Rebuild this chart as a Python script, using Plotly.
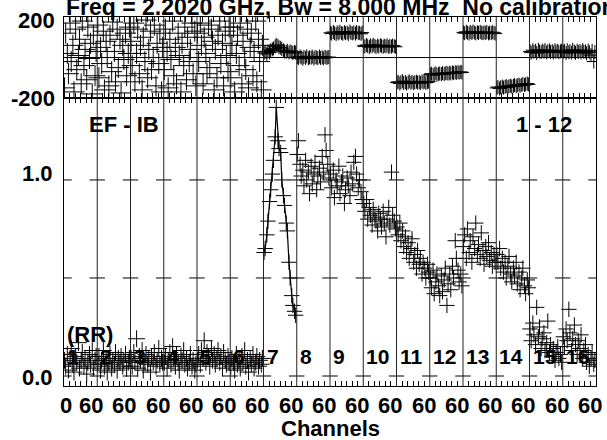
import plotly.graph_objects as go

# ---------------- data ----------------
N_IF = 16
IF_WIDTH = 60          # channel units spanned by each IF on the axis
CHANNELS = [1, 3, 6, 8, 11, 13, 16, 18, 21, 23, 26, 28, 31, 33, 36, 38, 41, 43, 46, 48, 51, 53, 56, 58]
MINOR_TICK_CHANNELS = [10, 20, 30, 40, 50]
X_TICK_LABELS = ["0"] + ["60"] * 16
X_LABEL_CHANNEL = 50   # the "60" labels sit over this channel of each IF
IF_LABELS = [str(i) for i in range(1, 17)]
AMP_TICKS = [0.0, 0.5, 1.0]
AMP_LABEL_VALUES = [0.0, 1.0]
AMP_LABELS = ["0.0", "1.0"]
PHS_LABEL_VALUES = [-200, 200]
PHS_LABELS = ["-200", "200"]

AMP_IF01 = [0.08, 0.05, 0.11, 0.03, 0.09, 0.14, 0.06, 0.02, 0.10, 0.07, 0.17, 0.04, 0.08, 0.12, 0.05, 0.09, 0.01, 0.07, 0.11, 0.06, 0.13, 0.04, 0.08, 0.10]
AMP_IF02 = [0.06, 0.10, 0.03, 0.08, 0.13, 0.05, 0.09, 0.02, 0.07, 0.11, 0.04, 0.08, 0.06, 0.12, 0.03, 0.09, 0.07, 0.10, 0.05, 0.08, 0.11, 0.04, 0.07, 0.09]
AMP_IF03 = [0.09, 0.05, 0.12, 0.07, 0.19, 0.04, 0.10, 0.08, 0.13, 0.03, 0.07, 0.11, 0.06, 0.09, 0.02, 0.10, 0.07, 0.12, 0.05, 0.08, 0.14, 0.06, 0.09, 0.07]
AMP_IF04 = [0.07, 0.10, 0.04, 0.08, 0.12, 0.06, 0.15, 0.09, 0.05, 0.11, 0.07, 0.03, 0.10, 0.08, 0.13, 0.06, 0.09, 0.04, 0.07, 0.11, 0.05, 0.08, 0.03, 0.06]
AMP_IF05 = [0.08, 0.11, 0.06, 0.13, 0.09, 0.18, 0.07, 0.12, 0.10, 0.05, 0.14, 0.08, 0.11, 0.06, 0.09, 0.13, 0.07, 0.10, 0.04, 0.12, 0.08, 0.06, 0.10, 0.07]
AMP_IF06 = [0.05, 0.09, 0.07, 0.03, 0.11, 0.06, 0.08, 0.04, 0.10, 0.07, 0.13, 0.05, 0.08, 0.02, 0.09, 0.06, 0.11, 0.04, 0.07, 0.10, 0.05, 0.08, 0.06, 0.09]
AMP_IF07 = [0.63, 0.65, 0.72, 0.79, 0.89, 0.95, 1.03, 1.10, 1.22, 1.37, 1.20, 1.16, 1.14, 1.00, 0.92, 0.87, 0.78, 0.74, 0.58, 0.50, 0.41, 0.36, 0.33, 0.31]
AMP_IF08 = [1.13, 1.20, 1.08, 1.02, 1.05, 0.97, 1.10, 1.00, 1.04, 0.93, 1.07, 0.98, 1.03, 1.09, 0.95, 1.02, 1.06, 0.99, 1.12, 1.04, 1.23, 1.15, 1.08, 1.01]
AMP_IF09 = [1.03, 0.96, 1.05, 0.91, 1.00, 0.97, 1.07, 0.93, 0.99, 1.02, 0.88, 0.95, 1.01, 0.97, 0.92, 1.04, 0.98, 1.09, 1.12, 1.03, 0.96, 1.00, 0.94, 0.90]
AMP_IF10 = [0.88, 0.84, 0.90, 0.80, 0.86, 0.82, 0.77, 0.85, 0.81, 0.79, 0.74, 0.83, 0.80, 0.76, 0.84, 0.78, 0.71, 0.80, 0.86, 0.77, 1.04, 0.82, 0.79, 0.75]
AMP_IF11 = [0.76, 0.72, 0.78, 0.69, 0.74, 0.66, 0.71, 0.63, 0.68, 0.60, 0.65, 0.70, 0.58, 0.62, 0.55, 0.64, 0.57, 0.60, 0.52, 0.58, 0.55, 0.50, 0.57, 0.53]
AMP_IF12 = [0.50, 0.45, 0.54, 0.42, 0.48, 0.52, 0.46, 0.41, 0.51, 0.43, 0.49, 0.55, 0.36, 0.47, 0.52, 0.44, 0.56, 0.50, 0.69, 0.60, 0.54, 0.48, 0.52, 0.46]
AMP_IF13 = [0.66, 0.72, 0.60, 0.75, 0.63, 0.69, 0.58, 0.71, 0.65, 0.78, 0.62, 0.67, 0.60, 0.73, 0.64, 0.57, 0.66, 0.61, 0.68, 0.59, 0.63, 0.56, 0.62, 0.58]
AMP_IF14 = [0.62, 0.58, 0.65, 0.55, 0.60, 0.53, 0.58, 0.50, 0.56, 0.61, 0.52, 0.48, 0.55, 0.51, 0.58, 0.47, 0.53, 0.44, 0.50, 0.55, 0.46, 0.42, 0.49, 0.45]
AMP_IF15 = [0.24, 0.18, 0.27, 0.21, 0.16, 0.35, 0.20, 0.25, 0.14, 0.19, 0.22, 0.13, 0.17, 0.28, 0.12, 0.16, 0.10, 0.14, 0.08, 0.12, 0.15, 0.09, 0.11, 0.07]
AMP_IF16 = [0.20, 0.15, 0.24, 0.18, 0.34, 0.22, 0.13, 0.19, 0.26, 0.16, 0.11, 0.18, 0.14, 0.21, 0.09, 0.13, 0.16, 0.07, 0.11, 0.05, 0.09, 0.12, 0.06, 0.08]

PHS_IF01 = [-150, 120, 20, -80, 170, -20, 60, -170, 140, -60, 10, 90, -130, 180, -40, 40, -110, 150, -5, 70, -180, 110, -90, 30]
PHS_IF02 = [160, -100, 50, -30, 130, -160, 80, 0, -140, 110, -70, 175, 30, -120, 140, -50, 90, -175, 60, -10, 120, -90, 20, 150]
PHS_IF03 = [80, -40, 170, -120, 20, 140, -80, 60, -160, 100, -20, 185, -100, 40, 130, -60, 0, 160, -140, 70, -30, 120, -170, 50]
PHS_IF04 = [-60, 140, 30, -150, 90, -10, 180, -90, 50, -130, 120, 10, -170, 70, -40, 150, -110, 100, -20, 40, 170, -80, 130, -140]
PHS_IF05 = [120, -20, 170, 60, -130, 100, 20, -80, 160, -50, 140, 80, -160, 40, -100, 110, 180, -30, 70, -140, 130, 10, -70, 150]
PHS_IF06 = [-100, 60, 150, -170, 20, 110, -40, 170, -130, 80, 0, -60, 140, -150, 50, 120, -90, 30, 180, -120, 90, -20, -160, 60]
PHS_IF07 = [22, 28, 18, 30, 25, 35, 40, 45, 55, 62, 58, 50, 48, 42, 35, 30, 28, 33, 25, 30, 27, 22, 28, 24]
PHS_IF08 = [2, -3, 5, 0, -6, 3, -2, 6, -4, 1, -1, 4, -5, 2, 0, -3, 5, -2, 1, -4, 3, -1, 0, 2]
PHS_IF09 = [122, 118, 126, 120, 115, 124, 119, 127, 121, 117, 125, 120, 123, 116, 128, 121, 119, 124, 118, 126, 120, 122, 117, 123]
PHS_IF10 = [58, 54, 62, 56, 51, 60, 55, 63, 57, 52, 59, 54, 61, 56, 53, 58, 55, 60, 52, 57, 54, 59, 56, 53]
PHS_IF11 = [-124, -120, -128, -122, -117, -126, -121, -129, -123, -118, -125, -120, -127, -122, -119, -124, -121, -126, -118, -123, -120, -125, -122, -119]
PHS_IF12 = [-84, -80, -87, -82, -78, -85, -81, -79, -83, -77, -82, -78, -76, -80, -75, -79, -74, -77, -73, -76, -72, -75, -71, -74]
PHS_IF13 = [124, 120, 127, 122, 118, 126, 121, 128, 123, 119, 125, 121, 127, 122, 120, 124, 121, 126, 119, 123, 120, 125, 122, 118]
PHS_IF14 = [-150, -146, -153, -147, -143, -149, -145, -141, -147, -142, -139, -144, -140, -136, -142, -137, -134, -139, -135, -131, -136, -132, -129, -133]
PHS_IF15 = [30, 24, 36, 28, 33, 22, 38, 30, 26, 34, 29, 37, 25, 31, 35, 27, 32, 24, 36, 29, 33, 26, 30, 34]
PHS_IF16 = [28, 33, 22, 36, 26, 31, 24, 38, 29, 23, 34, 27, 32, 25, 37, 28, 30, 21, 35, 26, 12, 33, -20, 27]

AMPS = [AMP_IF01, AMP_IF02, AMP_IF03, AMP_IF04, AMP_IF05, AMP_IF06, AMP_IF07, AMP_IF08,
        AMP_IF09, AMP_IF10, AMP_IF11, AMP_IF12, AMP_IF13, AMP_IF14, AMP_IF15, AMP_IF16]
PHASES = [PHS_IF01, PHS_IF02, PHS_IF03, PHS_IF04, PHS_IF05, PHS_IF06, PHS_IF07, PHS_IF08,
          PHS_IF09, PHS_IF10, PHS_IF11, PHS_IF12, PHS_IF13, PHS_IF14, PHS_IF15, PHS_IF16]
NOISY_IFS = [1, 2, 3, 4, 5, 6]
LINE_IFS = [7]

TITLE = "Freq = 2.2020 GHz, Bw = 8.000 MHz  No calibration applied"

# ---------------- figure ----------------
W, H = 607, 440
ML, MR, MT, MB = 64, 11, 17, 54
PH = H - MT - MB
BOUNDARY = (H - MB - 98) / PH   # paper y of panel boundary

FONT = "Liberation Sans, Arial, Helvetica, sans-serif"
INK = "#000000"

fig = go.Figure()

for i in range(N_IF):
    ifn = i + 1
    xs = [i * IF_WIDTH + c for c in CHANNELS]
    big = ifn in NOISY_IFS
    mode = "lines+markers" if ifn in LINE_IFS else "markers"
    fig.add_trace(go.Scatter(
        x=xs, y=AMPS[i], mode=mode, xaxis="x", yaxis="y",
        line=dict(color=INK, width=1.2),
        marker=dict(symbol="cross-thin", size=12 if big else 11,
                    line=dict(color=INK, width=1)),
        showlegend=False, hoverinfo="skip"))
    fig.add_trace(go.Scatter(
        x=xs, y=PHASES[i], mode="markers", xaxis="x2", yaxis="y2",
        marker=dict(symbol="cross-thin", size=15 if big else 10,
                    line=dict(color=INK, width=1)),
        showlegend=False, hoverinfo="skip"))

# cross tick marks on amplitude panel at each IF boundary
bx, by = [], []
for k in range(N_IF + 1):
    for t in AMP_TICKS:
        bx.append(k * IF_WIDTH)
        by.append(t)
fig.add_trace(go.Scatter(x=bx, y=by, mode="markers", xaxis="x", yaxis="y",
                         marker=dict(symbol="line-ew", size=11, line=dict(color=INK, width=1)),
                         cliponaxis=True, showlegend=False, hoverinfo="skip"))

minor_ticks = [k * IF_WIDTH + c for k in range(N_IF) for c in MINOR_TICK_CHANNELS]
XR = [0, N_IF * IF_WIDTH]

axis_common = dict(showgrid=False, zeroline=False, showline=True, linecolor=INK,
                   linewidth=1, mirror=True, automargin=False)

fig.update_layout(
    width=W, height=H, margin=dict(l=ML, r=MR, t=MT, b=MB),
    plot_bgcolor="white", paper_bgcolor="white",
    font=dict(family=FONT, size=22, color=INK, weight="bold"),
    xaxis=dict(domain=[0, 1], range=XR, anchor="y", tickvals=minor_ticks, ticks="inside",
               ticklen=5, tickcolor=INK, showticklabels=False, **{**axis_common, "mirror": "ticks"}),
    yaxis=dict(domain=[0, BOUNDARY], range=[-0.051, 1.418], anchor="x",
               showticklabels=False, ticks="", **axis_common),
    xaxis2=dict(domain=[0, 1], range=XR, anchor="y2", matches="x", tickvals=minor_ticks,
                ticks="inside", ticklen=5, tickcolor=INK, showticklabels=False,
                **{**axis_common, "mirror": "ticks"}),
    yaxis2=dict(domain=[BOUNDARY, 1], range=[-200, 200], anchor="x2",
                showticklabels=False, ticks="",
                **{**axis_common, "zeroline": True, "zerolinecolor": INK, "zerolinewidth": 1}),
)

# IF dividers through both panels
for k in range(1, N_IF):
    fig.add_shape(type="line", xref="x", yref="paper", x0=k * IF_WIDTH, x1=k * IF_WIDTH,
                  y0=0, y1=1, line=dict(color="#222222", width=1), layer="above")

def ann(text, x, y, xref="paper", yref="paper", xanchor="left", yanchor="middle", size=22,
        xshift=0, yshift=0):
    fig.add_annotation(text=text, x=x, y=y, xref=xref, yref=yref, xanchor=xanchor,
                       yanchor=yanchor, showarrow=False, xshift=xshift, yshift=yshift,
                       borderpad=0,
                       font=dict(family=FONT, size=size, color=INK, weight="bold"))

def px_x(p):
    return (p - ML) / (W - ML - MR)

def px_y(p):
    return (H - MB - p) / PH

# y-axis labels (placed next to the axis like the original plot)
ann(AMP_LABELS[1], px_x(54), AMP_LABEL_VALUES[1], yref="y", xanchor="right", yshift=6)
ann(AMP_LABELS[0], px_x(54), AMP_LABEL_VALUES[0], yref="y", xanchor="right", yshift=-1)
ann(PHS_LABELS[1], px_x(56), PHS_LABEL_VALUES[1], yref="y2", xanchor="right", yshift=-3)
ann(PHS_LABELS[0], px_x(56), PHS_LABEL_VALUES[0], yref="y2", xanchor="right")

# title (clipped at the top edge as in the original)
ann(TITLE, px_x(65), px_y(21), yanchor="bottom", size=23)
ann("EF - IB", px_x(88), px_y(124))
ann("1 - 12", px_x(515), px_y(124))
ann("(RR)", px_x(66), px_y(334))
for k, lab in enumerate(IF_LABELS):
    ann(lab, k * IF_WIDTH, px_y(356), xref="x", xshift=2, size=21)
# channel tick labels
for k, lab in enumerate(X_TICK_LABELS):
    if k == 0:
        ann(lab, 0, px_y(405), xref="x", xanchor="center", xshift=1.5)
    else:
        ann(lab, (k - 1) * IF_WIDTH + X_LABEL_CHANNEL, px_y(405), xref="x",
            xanchor="center", xshift=-0.5)
ann("Channels", 0.5, px_y(428), xanchor="center")

fig.write_html("out.html", config={"displayModeBar": False},
               post_script="document.body.style.margin='0px';")
